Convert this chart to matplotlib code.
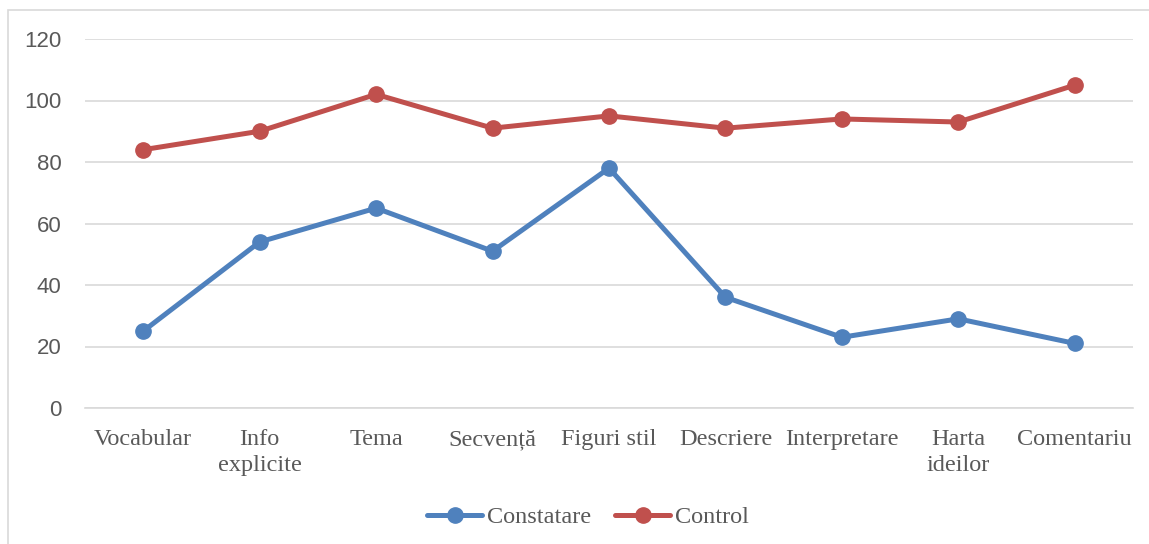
import matplotlib.pyplot as plt
from matplotlib.patches import Rectangle

# --- Data ---
categories = ["Vocabular", "Info\nexplicite", "Tema", "Secvență", "Figuri stil",
              "Descriere", "Interpretare", "Harta\nideilor", "Comentariu"]
constatare = [25, 54, 65, 51, 78, 36, 23, 29, 21]
control = [84, 90, 102, 91, 95, 91, 94, 93, 105]
y_ticks = [0, 20, 40, 60, 80, 100, 120]

BLUE = "#4F81BD"
RED = "#C0504D"
GRID = "#D9D9D9"
TEXT = "#595959"

fig = plt.figure(figsize=(11.49, 5.44), dpi=100)
W, H = 1149, 544

# outer chart border (runs off the right/bottom edge like the screenshot)
fig.patches.append(Rectangle((8 / W, -0.1), 1.2, 1 - 10 / H + 0.1,
                             transform=fig.transFigure, fill=False,
                             edgecolor=GRID, linewidth=1.2))

ax = fig.add_axes([85 / W, 136 / H, (1133 - 85) / W, (408 - 39) / H])

x = range(len(categories))
ax.plot(x, constatare, color=BLUE, lw=3.6, marker="o", ms=11, label="Constatare",
        solid_capstyle="round", zorder=3)
ax.plot(x, control, color=RED, lw=3.6, marker="o", ms=11, label="Control",
        solid_capstyle="round", zorder=3)

ax.set_xlim(-0.5, len(categories) - 0.5)
ax.set_ylim(0, 120)
ax.set_yticks(y_ticks)
ax.set_xticks(list(x))
ax.set_xticklabels(categories, family="Liberation Serif", fontsize=17.5,
                   color=TEXT, linespacing=1.35)
ax.tick_params(axis="y", length=0, pad=17, labelsize=16, labelcolor=TEXT)
ax.tick_params(axis="x", length=0, pad=15)
for lbl in ax.get_yticklabels():
    lbl.set_family("Liberation Sans")

ax.grid(axis="y", color=GRID, lw=1.2)
ax.set_axisbelow(True)
for side in ["top", "right", "left"]:
    ax.spines[side].set_visible(False)
ax.spines["bottom"].set_color(GRID)
ax.spines["bottom"].set_linewidth(1.2)

fig.legend(loc="center", bbox_to_anchor=(588 / W, 1 - 517 / H), ncol=2,
           frameon=False, prop={"family": "Liberation Serif", "size": 17.5},
           labelcolor=TEXT, handlelength=2.25, handletextpad=0.2,
           columnspacing=1.0)

plt.savefig("out.png", dpi=100)
